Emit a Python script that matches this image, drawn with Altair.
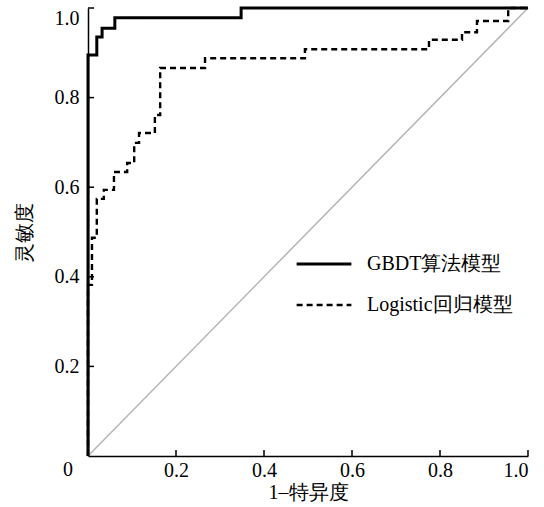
import altair as alt
import pandas as pd

# ---- data ----
models = ["GBDT算法模型", "Logistic回归模型"]

gbdt_fpr = [0.0, 0.0, 0.020, 0.020, 0.032, 0.032, 0.061, 0.061, 0.348, 0.348, 1.0]
gbdt_tpr = [0.0, 0.895, 0.895, 0.935, 0.935, 0.955, 0.955, 0.978, 0.978, 1.0, 1.0]

log_fpr = [0.0, 0.0, 0.009, 0.009, 0.020, 0.020, 0.036, 0.036, 0.059, 0.059,
           0.089, 0.089, 0.105, 0.105, 0.116, 0.116, 0.152, 0.152, 0.164, 0.164,
           0.266, 0.266, 0.493, 0.493, 0.775, 0.775, 0.850, 0.850, 0.884, 0.884,
           0.955, 0.955, 1.0]
log_tpr = [0.0, 0.382, 0.382, 0.487, 0.487, 0.574, 0.574, 0.594, 0.594, 0.634,
           0.634, 0.654, 0.654, 0.699, 0.699, 0.721, 0.721, 0.761, 0.761, 0.866,
           0.866, 0.888, 0.888, 0.908, 0.908, 0.929, 0.929, 0.946, 0.946, 0.971,
           0.971, 1.0, 1.0]

diag_x = [0.0, 1.0]
diag_y = [0.0, 1.0]

x_ticks = [0.2, 0.4, 0.6, 0.8, 1.0]
y_ticks = [0.2, 0.4, 0.6, 0.8, 1.0]
corner_label = ["0"]

# ---- tables ----
rows = []
for i, (a, b) in enumerate(zip(gbdt_fpr, gbdt_tpr)):
    rows.append({"model": models[0], "i": i, "fpr": a, "tpr": b})
for i, (a, b) in enumerate(zip(log_fpr, log_tpr)):
    rows.append({"model": models[1], "i": i, "fpr": a, "tpr": b})
df = pd.DataFrame(rows)
diag_df = pd.DataFrame({"fpr": diag_x, "tpr": diag_y})
xt_df = pd.DataFrame({"t": x_ticks})
yt_df = pd.DataFrame({"t": y_ticks})
corner_df = pd.DataFrame({"v": [0.0], "lab": corner_label})

W, H = 440, 448
FONT = "Liberation Serif"
TLEN_X = 6 / W
TLEN_Y = 6 / H

xs = alt.Scale(domain=[0, 1], nice=False, zero=True)
ys = alt.Scale(domain=[0, 1], nice=False, zero=True)

x_axis = alt.Axis(values=x_ticks, format=".1f", title="1–特异度", ticks=False,
                  labelPadding=4, titlePadding=2)
y_axis = alt.Axis(values=y_ticks, format=".1f", title="灵敏度", ticks=False,
                  labelPadding=9, titlePadding=20, labelFlush=True)

diag = alt.Chart(diag_df).mark_line(color="#b5b5b5", strokeWidth=1.5).encode(
    x=alt.X("fpr:Q", scale=xs, axis=x_axis),
    y=alt.Y("tpr:Q", scale=ys, axis=y_axis),
)

curves = alt.Chart(df).mark_line(color="black").encode(
    x=alt.X("fpr:Q", scale=xs, axis=x_axis),
    y=alt.Y("tpr:Q", scale=ys, axis=y_axis),
    order=alt.Order("i:Q"),
    strokeDash=alt.StrokeDash(
        "model:N",
        scale=alt.Scale(domain=models, range=[[1, 0], [6, 4]]),
        legend=alt.Legend(orient="none", legendX=207, legendY=227, title=None,
                          symbolType="stroke", symbolSize=3000,
                          symbolStrokeWidth=2.4, symbolStrokeColor="black",
                          labelFont=FONT, labelFontSize=20, labelColor="black",
                          labelOffset=14, rowPadding=2, padding=0),
    ),
    strokeWidth=alt.StrokeWidth(
        "model:N", scale=alt.Scale(domain=models, range=[3.0, 2.4]), legend=None
    ),
)

xticks = alt.Chart(xt_df).mark_rule(color="black", strokeWidth=1.5).encode(
    x=alt.X("t:Q", scale=xs), y=alt.datum(0), y2=alt.datum(TLEN_Y)
)
yticks = alt.Chart(yt_df).mark_rule(color="black", strokeWidth=1.5).encode(
    y=alt.Y("t:Q", scale=ys), x=alt.datum(0), x2=alt.datum(TLEN_X)
)

corner = alt.Chart(corner_df).mark_text(
    font=FONT, fontSize=20, color="black", dx=-20, dy=14
).encode(x=alt.X("v:Q", scale=xs), y=alt.Y("v:Q", scale=ys), text="lab:N")

chart = (
    alt.layer(diag, curves, xticks, yticks, corner)
    .properties(width=W, height=H,
                autosize=alt.AutoSizeParams(type="none"),
                padding={"left": 88, "top": 8, "right": 16, "bottom": 51})
    .configure(background="white", font=FONT)
    .configure_view(stroke=None)
    .configure_axis(
        domainColor="black", domainWidth=1.5, grid=False,
        labelFont=FONT, labelFontSize=20, labelColor="black",
        titleFont=FONT, titleFontSize=20, titleColor="black",
        titleFontWeight="normal",
    )
)

chart.save("out.html", embed_options={"renderer": "svg", "actions": False})
